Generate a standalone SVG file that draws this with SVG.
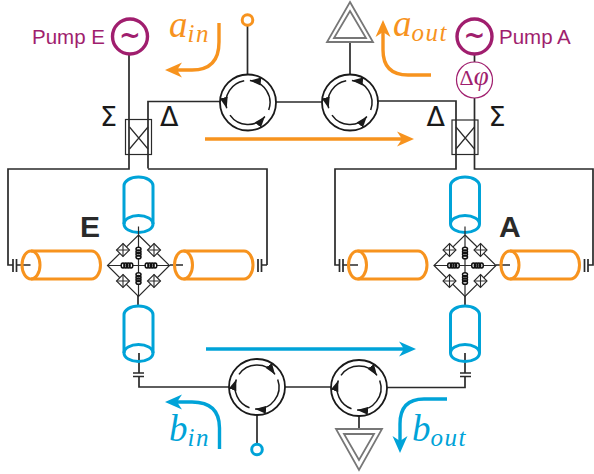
<svg xmlns="http://www.w3.org/2000/svg" width="594" height="474" viewBox="0 0 594 474">
<style>
.w{fill:none;stroke:#2a2a2a;stroke-width:1.7}
.t{fill:none;stroke:#2a2a2a;stroke-width:1.2}
.o{fill:none;stroke:#f7931e;stroke-width:3}
.b{fill:none;stroke:#00a3d8;stroke-width:3}
.oa{fill:none;stroke:#f7931e;stroke-width:3.4}
.ba{fill:none;stroke:#00a3d8;stroke-width:3.4}
.g{fill:none;stroke:#777;stroke-width:1.8}
.p{fill:#fff;stroke:#a01e6e;stroke-width:3.4}
.ar{fill:none;stroke:#1a1a1a;stroke-width:1.5}
.ml{font-family:"Liberation Serif",serif;font-style:italic;font-size:37px}
.sub{font-size:25px;letter-spacing:1.5px}
.lb{font-family:"Liberation Sans",sans-serif;font-size:20.5px;fill:#a01e6e}
.sym{font-family:"DejaVu Sans",sans-serif;font-size:27px;fill:#1a1a1a}
.big{font-family:"Liberation Sans",sans-serif;font-weight:bold;font-size:30px;fill:#2a2a2a}
</style>
<defs>
<marker id="hk" markerUnits="userSpaceOnUse" markerWidth="13" markerHeight="9" refX="11" refY="4.500" orient="auto"><path d="M0 0.5L11 4.500L0 8.500Z" fill="#1a1a1a"/></marker>
<marker id="mo" markerUnits="userSpaceOnUse" markerWidth="20" markerHeight="18" refX="5" refY="9" orient="auto"><path d="M0 1.5L17 9L0 16.5L5 9Z" fill="#f7931e"/></marker>
<marker id="mb" markerUnits="userSpaceOnUse" markerWidth="20" markerHeight="18" refX="5" refY="9" orient="auto"><path d="M0 1.5L17 9L0 16.5L5 9Z" fill="#00a3d8"/></marker>
<g id="cu">
<circle r="28" fill="#fff" stroke="#1a1a1a" stroke-width="1.8"/>
<path class="ar" marker-end="url(#hk)" d="M20.7 7.5A22 22 0 0 0 1.9 -21.9"/>
<path class="ar" marker-end="url(#hk)" d="M-3.8 -21.7A22 22 0 0 0 -21.3 5.7"/>
<path class="ar" marker-end="url(#hk)" d="M-18 12.6A22 22 0 0 0 16.9 14.1"/>
</g>
<g id="cd">
<circle r="28" fill="#fff" stroke="#1a1a1a" stroke-width="1.8"/>
<path class="ar" marker-end="url(#hk)" d="M-18 -12.6A22 22 0 0 1 18 -12.6"/>
<path class="ar" marker-end="url(#hk)" d="M20.7 -7.5A22 22 0 0 1 -1.9 21.9"/>
<path class="ar" marker-end="url(#hk)" d="M-7.5 20.7A22 22 0 0 1 -20.7 -7.5"/>
</g>
<g id="jj"><path d="M0 -6.5L6.5 0L0 6.5L-6.5 0Z" fill="#fff" stroke="#2a2a2a" stroke-width="1.1"/><path d="M0 -6.5V6.5M-6.5 0H6.5" stroke="#2a2a2a" stroke-width="1.1"/></g>
<g id="coil"><rect x="-6" y="-2.500" width="12" height="5" fill="#fff"/><g fill="none" stroke="#111" stroke-width="1.5"><ellipse cx="-4" rx="1.800" ry="2.500"/><ellipse cx="-1.300" rx="1.800" ry="2.500"/><ellipse cx="1.300" rx="1.800" ry="2.500"/><ellipse cx="4" rx="1.800" ry="2.500"/></g></g>
<g id="bridge">
<path class="t" d="M0 -30.500L31 0L0 31L-31 0Z"/>
<path class="t" d="M0 -39V31M-31 0H31"/>
<use href="#jj" x="-15.500" y="-15.500"/><use href="#jj" x="15.500" y="-15.500"/><use href="#jj" x="-15.500" y="15.500"/><use href="#jj" x="15.500" y="15.500"/>
<use href="#coil" x="-11.500" y="0"/><use href="#coil" x="12.500" y="0"/>
<use href="#coil" transform="translate(0,-12.500) rotate(90)"/><use href="#coil" transform="translate(0,13) rotate(90)"/>
</g>
<g id="vcyl"><path class="b" d="M-14.500 47V9A14.500 9 0 0 1 14.500 9V47"/><ellipse class="b" cy="47" rx="14.500" ry="8.500"/></g>
<g id="hcyl"><path class="o" d="M0 -14H60.500A9 14 0 0 1 60.500 14H0"/><ellipse class="o" rx="9" ry="14"/></g>
</defs>

<g id="connectors">
<path class="w" d="M129 55V169H8V265H13"/>
<path class="w" d="M267 265H262M148 168.500V101.500H222"/>
<path class="w" d="M148 169H267V265"/>
<path class="w" d="M276 102H322"/>
<path class="w" d="M378 101H456V169H335V265H339"/>
<path class="w" d="M474.500 98V169H593V265H588"/>
<path class="w" d="M474.500 54V64"/>
<path class="w" d="M247.500 25V75"/>
<path class="w" d="M350 42V74"/>
<path class="w" d="M139 376V387H230"/>
<path class="w" d="M285 387H332"/>
<path class="w" d="M387 387.500H465V376"/>
<path class="w" d="M257 415V444"/>
<path class="w" d="M359 416V430"/>
<path class="w" d="M139 353V373M465 353V373"/>
<path class="w" d="M138 296V306M465 296V306"/>
<path class="w" d="M16 265H30.500M170 265H183M342.500 265H358M496 265H510"/>
<path class="w" d="M13 259V272M16.500 259V272M258 259V272M261.500 259V272M339.500 259V272M343 259V272M584.500 259V272M588 259V272"/>
<path class="w" d="M133 373H144M133 376.500H144M460 373H471M460 376.500H471"/>
</g>

<g id="pumpE"><circle class="p" cx="130" cy="36.500" r="17.500"/><text x="130" y="44" text-anchor="middle" font-family="DejaVu Sans,sans-serif" font-size="26" font-weight="bold" fill="#a01e6e">~</text><text class="lb" x="32" y="43.500">Pump E</text></g>
<g id="pumpA"><circle class="p" cx="474.500" cy="36.500" r="17.500"/><text x="474.500" y="44" text-anchor="middle" font-family="DejaVu Sans,sans-serif" font-size="26" font-weight="bold" fill="#a01e6e">~</text><text class="lb" x="499" y="43.500">Pump A</text></g>
<g id="phase"><circle cx="474.500" cy="80" r="18" fill="#fff" stroke="#a01e6e" stroke-width="1.2"/><text x="459.500" y="85" font-family="Liberation Serif,serif" font-size="22" fill="#a01e6e">Δ<tspan font-style="italic" font-size="27">φ</tspan></text></g>

<g id="hybridE"><rect class="t" x="125.500" y="119.500" width="26" height="35"/><path class="t" d="M129.500 127L148 149M148 127L129.500 149"/><text class="sym" x="100" y="126">Σ</text><text class="sym" x="160" y="126">Δ</text></g>
<g id="hybridA"><rect class="t" x="452" y="120" width="26" height="34.500"/><path class="t" d="M456 127L474.500 149M474.500 127L456 149"/><text class="sym" x="426.500" y="126">Δ</text><text class="sym" x="488.500" y="126">Σ</text></g>

<g id="circ1"><use href="#cu" x="248" y="102.500"/></g>
<g id="circ2"><use href="#cu" x="350" y="102.500"/></g>
<g id="circ3"><use href="#cd" x="257" y="387"/></g>
<g id="circ4"><use href="#cd" x="359" y="388"/></g>

<g id="portA"><circle cx="247.500" cy="20" r="5.300" fill="#fff" stroke="#f7931e" stroke-width="3"/></g>
<g id="portB"><circle cx="257" cy="449.500" r="5.300" fill="#fff" stroke="#00a3d8" stroke-width="3"/></g>
<g id="termA"><path class="g" d="M350 2L373 42H327Z"/><path class="g" d="M350 11L366 38H334Z"/></g>
<g id="termB"><path class="g" d="M336 429H382L359 470Z"/><path class="g" d="M344 434H374L359 460Z"/></g>

<g id="E"><use href="#vcyl" x="138.500" y="177"/><use href="#hcyl" x="31" y="265"/><use href="#hcyl" x="183.500" y="265"/><use href="#bridge" x="138.500" y="265.500"/><use href="#vcyl" x="138.500" y="306"/><text class="big" x="80" y="237">E</text></g>
<g id="A"><use href="#vcyl" x="465" y="177"/><use href="#hcyl" x="357.500" y="265"/><use href="#hcyl" x="510" y="265"/><use href="#bridge" x="465" y="265.500"/><use href="#vcyl" x="465" y="306"/><text class="big" x="499" y="237">A</text></g>

<g id="flows">
<path class="oa" marker-end="url(#mo)" d="M219 23V42Q219 70 192 70H177"/>
<path class="oa" marker-end="url(#mo)" d="M431 75H408Q383 75 383 50V32"/>
<path class="oa" marker-end="url(#mo)" d="M205 139H402"/>
<path class="ba" marker-end="url(#mb)" d="M206 349H404"/>
<path class="ba" marker-end="url(#mb)" d="M219.500 449V428Q219.500 402 192 402H177"/>
<path class="ba" marker-end="url(#mb)" d="M447 399H424Q400 399 400 424V441"/>
</g>

<text class="ml" x="169" y="37" fill="#f7931e">a<tspan class="sub" dy="5">in</tspan></text>
<text class="ml" x="393" y="36" fill="#f7931e">a<tspan class="sub" dy="5">out</tspan></text>
<text class="ml" x="169" y="441" fill="#00a3d8">b<tspan class="sub" dy="5">in</tspan></text>
<text class="ml" x="412" y="441" fill="#00a3d8">b<tspan class="sub" dy="5">out</tspan></text>
</svg>
